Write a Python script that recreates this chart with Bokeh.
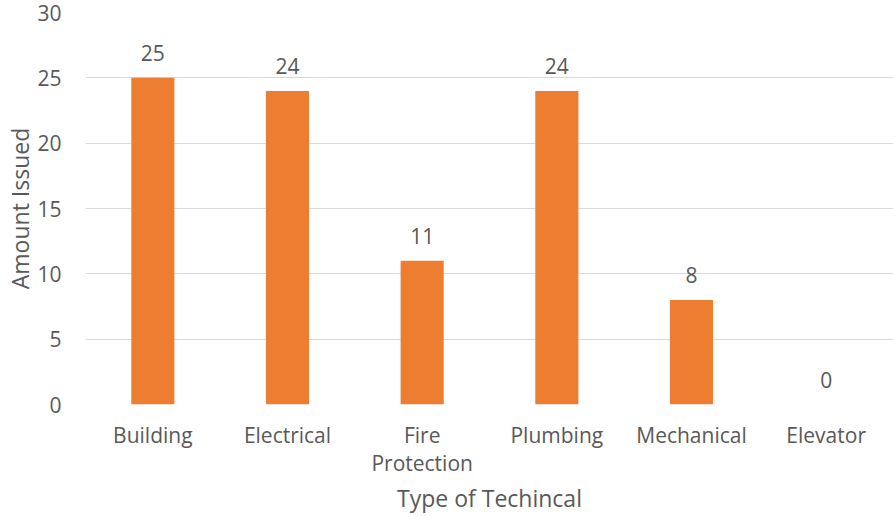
from bokeh.plotting import figure
from bokeh.models import (ColumnDataSource, FactorRange, Range1d, FixedTicker, LabelSet,
                          CategoricalAxis, CustomJSTickFormatter)
from bokeh.core.properties import value
from bokeh.embed import file_html
from bokeh.resources import INLINE

categories = ["Building", "Electrical", "Fire Protection", "Plumbing", "Mechanical", "Elevator"]
tick_line1 = ["Building", "Electrical", "Fire", "Plumbing", "Mechanical", "Elevator"]
tick_line2 = ["", "", "Protection", "", "", ""]
amounts = [25, 24, 11, 24, 8, 0]
y_ticks = [0, 5, 10, 15, 20, 25, 30]

FONT = "Open Sans"
TXT = "#595959"
FS = "21px"
FS_T = "23px"

src = ColumnDataSource(dict(cat=categories, amt=amounts, lbl=[str(a) for a in amounts]))

p = figure(x_range=FactorRange(*categories, range_padding=0), y_range=Range1d(0, 30),
           width=893, height=516, output_backend="svg", toolbar_location=None,
           min_border_left=85, min_border_right=0, min_border_top=12, min_border_bottom=112,
           x_axis_location=None)
p.outline_line_color = None
p.background_fill_color = "white"
p.border_fill_color = "white"

p.vbar(x="cat", top="amt", width=0.32, source=src, fill_color="#ED7D31", line_color=None)

labels = LabelSet(x="cat", y="amt", text="lbl", source=src, text_align="center",
                  text_baseline="alphabetic", y_offset=17, text_font=value(FONT),
                  text_font_size=FS, text_color=TXT)
p.add_layout(labels)

code = "const i = cats.indexOf(tick); return i >= 0 ? names[i] : tick;"
ax1 = CategoricalAxis(formatter=CustomJSTickFormatter(args=dict(cats=categories, names=tick_line1), code=code))
ax2 = CategoricalAxis(formatter=CustomJSTickFormatter(args=dict(cats=categories, names=tick_line2), code=code),
                      axis_label="Type of Techincal")
p.add_layout(ax1, "below")
p.add_layout(ax2, "below")

p.yaxis.ticker = FixedTicker(ticks=y_ticks)
p.ygrid.ticker = FixedTicker(ticks=y_ticks)
p.ygrid.grid_line_color = "#D9D9D9"
p.ygrid.grid_line_width = 1
p.xgrid.grid_line_color = None

for ax in (ax1, ax2, p.yaxis[0]):
    ax.axis_line_color = None
    ax.major_tick_line_color = None
    ax.minor_tick_line_color = None
    ax.major_label_text_font = FONT
    ax.major_label_text_font_size = FS
    ax.major_label_text_color = TXT
    ax.axis_label_text_font = FONT
    ax.axis_label_text_font_size = FS_T
    ax.axis_label_text_color = TXT
    ax.axis_label_text_font_style = "normal"

ax1.major_label_standoff = 10
ax2.major_label_standoff = -9
ax2.axis_label_standoff = 2

p.yaxis.axis_label = "Amount Issued"
p.yaxis.major_label_standoff = 18
p.yaxis.axis_label_standoff = -2

open("out.html", "w").write(file_html(p, INLINE))
